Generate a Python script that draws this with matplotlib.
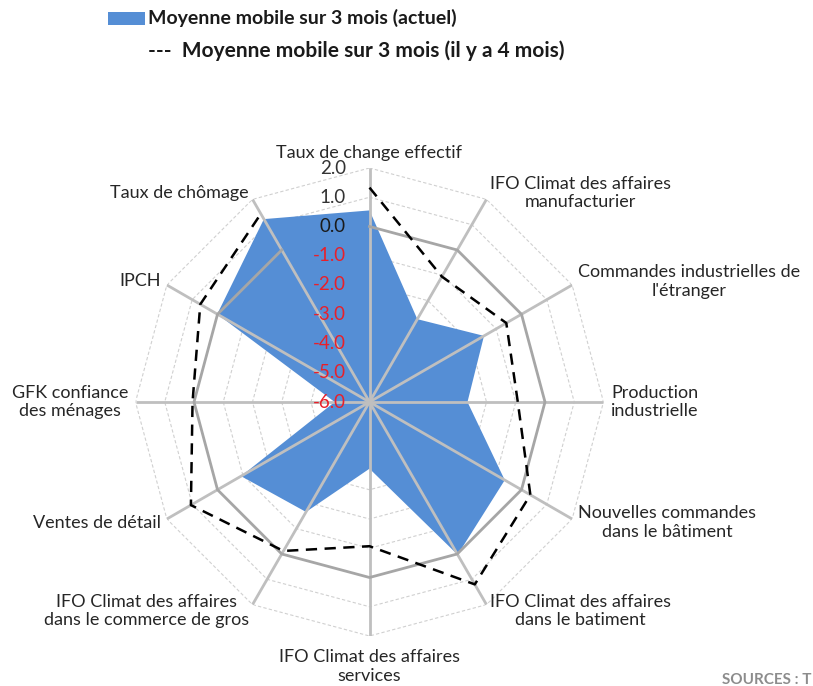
import numpy as np
import matplotlib
matplotlib.use("Agg")
import matplotlib.pyplot as plt
from matplotlib.patches import Rectangle

plt.rcParams['font.family'] = ['Lato', 'DejaVu Sans']

# categories, clockwise from the top
categories = ["Taux de change effectif",
              "IFO Climat des affaires\nmanufacturier",
              "Commandes industrielles de\nl'étranger",
              "Production\nindustrielle",
              "Nouvelles commandes\ndans le bâtiment",
              "IFO Climat des affaires\ndans le batiment",
              "IFO Climat des affaires\nservices",
              "IFO Climat des affaires\ndans le commerce de gros",
              "Ventes de détail",
              "GFK confiance\ndes ménages",
              "IPCH",
              "Taux de chômage"]
actuel = [0.55, -2.73, -1.48, -2.65, -0.66, 0.03, -3.72, -1.66, -0.93, -4.81, 0.01, 1.22]
il_y_a_4_mois = [1.33, -1.05, -0.60, -0.93, 0.35, 1.20, -1.07, -0.12, 1.05, 0.05, 0.68, 1.43]
zero = [0]*12
ticks = [-6, -5, -4, -3, -2, -1, 0, 1, 2]
tick_labels = ["-6.0", "-5.0", "-4.0", "-3.0", "-2.0", "-1.0", "0.0", "1.0", "2.0"]

W, H = 813, 686
fig = plt.figure(figsize=(W/100, H/100), dpi=100)
cx, cy, R = 369.5, 402, 234
ax = fig.add_axes([(cx-R)/W, (H-cy-R)/H, 2*R/W, 2*R/H], projection='polar')
ax.set_theta_zero_location('N')
ax.set_theta_direction(-1)
ax.set_ylim(-6, 2)
ax.axis('off')

n = len(categories)
theta = np.linspace(0, 2*np.pi, n, endpoint=False)
tc = np.append(theta, theta[0])

# dotted polygonal grid
for t in ticks[1:]:
    if t == 0:
        continue
    ax.plot(tc, [t]*(n+1), color='#D0D0D0', lw=0.8, ls=(0, (3, 2)), zorder=1)

# current series (filled)
ax.fill(tc, actuel + actuel[:1], color='#558ED5', lw=0, zorder=2)

# spokes
for th in theta:
    ax.plot([th, th], [-6, 2], color='#BFBFBF', lw=2.0, zorder=3, solid_capstyle='butt')
# zero line (not closed, as in the original)
ax.plot(theta, zero, color='#A6A6A6', lw=2.0, zorder=3)

# series 4 months ago (not closed either)
ax.plot(theta, il_y_a_4_mois, color='black', lw=1.8,
        ls=(0, (4.5, 3)), zorder=4)

# radial tick labels
for t, lab in zip(ticks, tick_labels):
    col = '#E8202A' if t < 0 else ('#1A1A1A' if t == 0 else '#333333')
    ax.annotate(lab, xy=(0, t), xytext=(-17, 0), textcoords='offset points',
                ha='right', va='center', fontsize=13.5, color=col, zorder=5,
                annotation_clip=False)

# category labels
for th, lab in zip(theta, categories):
    deg = np.degrees(th) % 360
    r = 2.25
    if deg == 0:
        ha, va = 'center', 'bottom'
    elif deg == 180:
        ha, va, r = 'center', 'top', 2.45
    elif deg < 180:
        ha, va = 'left', 'center'
    else:
        ha, va = 'right', 'center'
    ax.text(th, r, lab, ha=ha, va=va, fontsize=13, color='#262626',
            linespacing=1.2, multialignment='center', clip_on=False)

# legend
fig.patches.append(Rectangle((108/W, 1-25/H), 37/W, 13/H, transform=fig.transFigure,
                             color='#558ED5', lw=0))
fig.text(148/W, 1-18/H, "Moyenne mobile sur 3 mois (actuel)", ha='left', va='center',
         fontsize=14, fontweight='bold', color='#1A1A1A')
fig.text(148/W, 1-51/H, "---  Moyenne mobile sur 3 mois (il y a 4 mois)", ha='left',
         va='center', fontsize=15, fontweight='bold', color='#1A1A1A')

fig.text(722/W, 1-680/H, "SOURCES : T", ha='left', va='center',
         fontsize=11, color='#8C8C8C', fontweight='bold')

fig.savefig("out.png", dpi=100)
